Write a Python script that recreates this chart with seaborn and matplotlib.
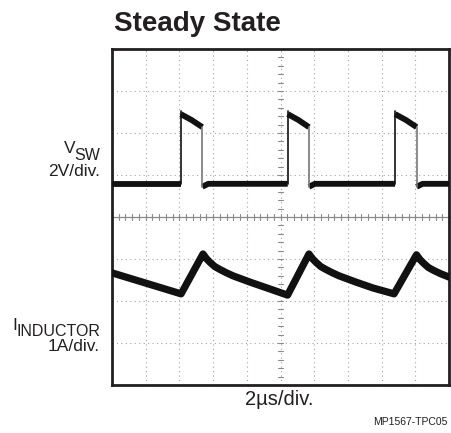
import numpy as np
import pandas as pd
import matplotlib
matplotlib.use("Agg")
import matplotlib.pyplot as plt
import seaborn as sns

# ---------------- data (time in us, 2 us/div; vertical in divisions from centre) -------------
# Switch node voltage V_SW (2 V/div)
rise_times = [4.08, 10.43, 16.80]
fall_times = [5.36, 11.69, 18.08]
vsw_low = 0.79
vsw_low_after_fall = 0.72
vsw_high_start = 2.45
vsw_high_mid = 2.31
vsw_high_end = 2.14

# Inductor current (1 A/div)
il_time = [0.0, 4.10, 5.40, 5.60, 5.82, 6.10, 6.41, 6.80, 7.18, 8.19, 9.20, 10.42,
           11.69, 11.89, 12.11, 12.39, 12.70, 13.09, 13.47, 14.48, 15.49, 16.74,
           18.07, 18.27, 18.49, 18.77, 19.08, 19.50, 20.0]
il_div = [-1.33, -1.83, -0.88, -0.99, -1.08, -1.18, -1.25, -1.33, -1.40, -1.55, -1.69, -1.86,
          -0.88, -0.99, -1.08, -1.18, -1.25, -1.33, -1.40, -1.55, -1.69, -1.83,
          -0.90, -1.01, -1.10, -1.20, -1.27, -1.35, -1.43]

title = "Steady State"
x_label = "2\u00b5s/div."
code_label = "MP1567-TPC05"

# ---------------- figure ----------------
sns.set_theme(style="white")
plt.rcParams["font.family"] = ["Liberation Sans", "DejaVu Sans"]

W, H = 451, 433
fig = plt.figure(figsize=(W / 100, H / 100), dpi=100)
ax = fig.add_axes([112 / W, 1 - 385 / H, 337 / W, 336 / H])
ax.set_xlim(0, 20)
ax.set_ylim(-4, 4)
ax.set_xticks([])
ax.set_yticks([])
for s in ax.spines.values():
    s.set_color("#231f20")
    s.set_linewidth(2.0)

# graticule
grid_col = "#a5a5a5"
for xv in np.arange(2, 20, 2):
    if xv == 10:
        continue
    ax.axvline(xv, color=grid_col, lw=0.8, ls=(0, (1, 3)), zorder=1)
for yv in np.arange(-3, 4, 1):
    if yv == 0:
        continue
    ax.axhline(yv, color=grid_col, lw=0.8, ls=(0, (1, 3)), zorder=1)
ax.axhline(0, color="#8a8a8a", lw=0.9, zorder=1)
ax.axvline(10, color=grid_col, lw=0.8, ls=(0, (1, 3)), zorder=1)
# centre ticks
for xv in np.arange(0.4, 20, 0.4):
    ax.plot([xv, xv], [-0.07, 0.07], color="#8a8a8a", lw=0.8, zorder=1)
for yv in np.arange(-3.8, 4, 0.2):
    ax.plot([9.87, 10.13], [yv, yv], color="#8a8a8a", lw=0.8, zorder=1)

# V_SW : thick flat levels, thin edges
trace = "#111111"
lows_t = [[0.0, rise_times[0]]]
for i, f in enumerate(fall_times):
    end = rise_times[i + 1] if i + 1 < len(rise_times) else 20.0
    lows_t.append([f, f + 0.35, end])
for seg in lows_t:
    if len(seg) == 2:
        df = pd.DataFrame({"t": seg, "v": [vsw_low, vsw_low]})
    else:
        df = pd.DataFrame({"t": seg, "v": [vsw_low_after_fall, vsw_low, vsw_low]})
    sns.lineplot(data=df, x="t", y="v", ax=ax, color=trace, lw=4.2,
                 sort=False, estimator=None, zorder=3, solid_capstyle="butt")
for r, f in zip(rise_times, fall_times):
    df = pd.DataFrame({"t": [r, (r + f) / 2, f],
                       "v": [vsw_high_start, vsw_high_mid, vsw_high_end]})
    sns.lineplot(data=df, x="t", y="v", ax=ax, color=trace, lw=4.2,
                 sort=False, estimator=None, zorder=3, solid_capstyle="butt")
    ax.plot([r, r], [vsw_low, vsw_high_start + 0.08], color=trace, lw=1.2, zorder=3)
    ax.plot([f, f], [vsw_high_end, vsw_low_after_fall], color="#777777", lw=1.2, zorder=3)

# inductor current
df_il = pd.DataFrame({"t": il_time, "i": il_div})
sns.lineplot(data=df_il, x="t", y="i", ax=ax, color=trace, lw=5.2,
             sort=False, estimator=None, zorder=3)
ax.set_xlabel("")
ax.set_ylabel("")

# ---------------- texts ----------------
def fx(x):
    return x / W

def fy(y):
    return 1 - y / H

tc = "#231f20"
fig.text(fx(114), fy(31), title, fontsize=20, fontweight="bold",
         ha="left", va="baseline", color=tc)
fig.text(fx(100), fy(160), "SW", fontsize=11.5, ha="right", va="baseline", color=tc)
fig.text(fx(75.5), fy(153.3), "V", fontsize=12.5, ha="right", va="baseline", color=tc)
fig.text(fx(100), fy(175.5), "2V/div.", fontsize=12.5, ha="right", va="baseline", color=tc)
fig.text(fx(100), fy(336), "INDUCTOR", fontsize=11.5, ha="right", va="baseline", color=tc)
fig.text(fx(17), fy(329.5), "I", fontsize=12.5, ha="right", va="baseline", color=tc)
fig.text(fx(100), fy(351), "1A/div.", fontsize=12.5, ha="right", va="baseline", color=tc)
fig.text(fx(279), fy(405), x_label, fontsize=14.5, ha="center", va="baseline", color=tc)
fig.text(fx(447), fy(425), code_label, fontsize=7.5, ha="right", va="baseline", color=tc)

fig.savefig("out.png", dpi=100)
